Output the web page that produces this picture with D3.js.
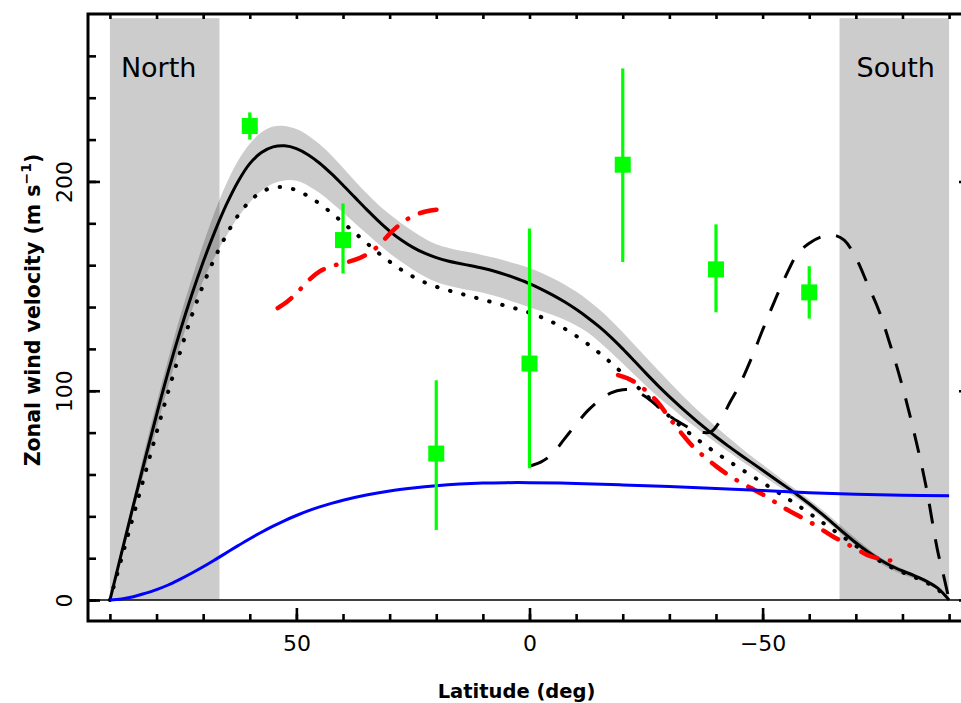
<!DOCTYPE html>
<html><head><meta charset="utf-8">
<script src="https://cdn.jsdelivr.net/npm/d3@7"></script>
<style>body{margin:0;background:#fff}svg{display:block}</style>
</head><body>
<svg id="c" width="961" height="703"></svg>
<script>
// ---------- data ----------
const modelLat = [90,87.5,85,82.5,80,77.5,75,72.5,70,67.5,65,62.5,60,57.5,55,52.5,50,47.5,45,42.5,40,37.5,35,32.5,30,27.5,25,22.5,20,17.5,15,12.5,10,7.5,5,2.5,0,-2.5,-5,-7.5,-10,-12.5,-15,-17.5,-20,-22.5,-25,-27.5,-30,-32.5,-35,-37.5,-40,-42.5,-45,-47.5,-50,-52.5,-55,-57.5,-60,-62.5,-65,-67.5,-70,-72.5,-75,-77.5,-80,-82.5,-85,-87.5,-90];
const modelSolid = [0,22.5,45,67,88.5,109,128,145.5,161.5,176,189,200,208.5,213.8,216.5,217,215.7,212.8,208.7,203.7,198.2,192.5,186.8,181.3,176.3,172,168.5,165.7,163.6,162,160.8,159.7,158.5,157.1,155.4,153.4,151.2,148.6,145.7,142.5,138.9,134.9,130.5,125.5,120,114.2,108.3,102.6,97.2,92.1,87.2,82.5,78,73.8,69.8,65.9,62,58.1,54.2,50.2,46,41.5,36.8,32,27.4,23.2,19.5,16.4,13.9,11.7,9.2,5.8,0];
const modelDotted = [0,20,40,60,80,99.5,118,135.5,150.5,163.5,174.5,183.8,190.5,195,197,197.2,195.8,193,189.3,185,180.3,175.5,170.7,166,161.7,157.8,154.5,151.8,149.7,148,146.5,145,143.5,142,140.5,139,137.3,135.2,132.7,129.7,126.2,122.3,118,113.3,108.3,103.2,98,92.8,87.8,83,78.5,74.3,70.4,66.7,63.1,59.6,56.1,52.6,49,45.3,41.5,37.6,33.7,29.8,25.9,22.2,18.8,15.8,13.3,11,8.5,5.2,0];
const bandUpper = [0,24,48,72,94,115,135,153,170,185.5,199,210,218,223.5,226.3,226.5,225,222,217.8,212.5,206.5,200.3,194.5,189,184.3,180,176.2,172.8,170,168.3,167,166,164.8,163.5,162,160.4,158.6,156.4,153.8,150.8,147.4,143.4,138.8,133.6,128,122,116,110,104.2,98.5,93,87.8,82.8,78,73.4,69,64.8,60.5,56.3,52.2,48,43.6,39,34.2,29.4,24.9,20.8,17.6,15,12.6,9.8,5.8,0];
const bandLower = [0,20,42,62,82,102,121,138,152.5,164,174,183,190,195.5,199,200.5,200.3,198,194.5,190,185.2,180.2,175.2,170.3,165.7,161.6,157.8,154.6,152,150.3,149,147.9,146.8,145.4,143.7,141.8,139.9,138.1,136.2,133.9,131.2,127.8,123.3,118.3,113,107.6,102.3,97.3,92.6,88,83.6,79.4,75.2,71.1,67.2,63.4,59.5,55.7,52,48.3,44.2,39.8,35.2,30.5,26,21.7,17.8,14.7,12.2,10.3,8,4.8,0];

const dashLat = [0,-2.5,-5,-7.5,-10,-12.5,-15,-17.5,-20,-22.5,-25,-27.5,-30,-32.5,-35,-37.5,-39,-41,-43,-45,-47.5,-50,-52.5,-55,-57.5,-60,-62.5,-65,-67.5,-70,-72.5,-75,-77.5,-80,-82.5,-85,-87.5,-89,-90];
const dashV = [64,66,70,77,84,90.5,95.5,99,100.5,100,97,92.5,88,84.5,81.5,80,80.5,86,94.5,102.5,115,129,142.5,155,165.5,170.5,173.5,174.5,172,163.5,151,138,121,102,80,55,24,10,0];

const red1Lat = [54,52,50,47.5,45,42.5,40,37.5,35,32.5,30,27.5,25,22.5,20,18.5];
const red1V = [139.5,142.5,146.5,152.5,157,159.5,161,162.5,165,169,175,180,183.5,185.5,186.5,186.5];
const red2Lat = [-19,-21,-23,-25,-27.5,-30,-32.5,-35,-37.5,-40,-42.5,-45,-47.5,-50,-52.5,-55,-57.5,-60,-62.5,-65,-67.5,-70,-72.5,-75,-77,-79,-80];
const red2V = [107.5,106,103.5,100,94.5,87,80,73.5,68.5,64,60,56.5,53.5,50.5,47,43.5,40.5,37.5,34,30.5,27.5,24.5,21.5,19.8,19,19.2,20.5];

const blueLat = [90,87.5,85,82.5,80,77.5,75,72.5,70,67.5,65,62.5,60,57.5,55,52.5,50,47.5,45,42.5,40,35,30,25,20,15,10,5,0,-10,-20,-30,-40,-50,-60,-70,-80,-90];
const blueV = [0,0.5,1.6,3.2,5,7.2,9.9,12.8,15.9,19.2,22.6,26,29.3,32.4,35.3,38,40.4,42.6,44.5,46.2,47.7,50.2,52.1,53.5,54.6,55.4,55.9,56.1,56.1,55.7,55,54.2,53.3,52.3,51.3,50.6,50.1,49.8];

const obsLat = [60,40,20,0,-20,-40,-60];
const obsV = [226.5,172,70,113,208,158,147];
const obsLo = [220,156,33.5,63,161.5,137.5,134.5];
const obsHi = [233,189.5,105,177.5,254,179.5,159.5];

const regionNames = ["North","South"];
const regionFrom = [90,-66.5];
const regionTo = [66.5,-90];
const regionTop = 278;

const xMajorTicks = [50,0,-50];
const xMinorTicks = d3.range(-90,91,10);
const yMajorTicks = [0,100,200];
const yMinorTicks = d3.range(0,261,20);

// ---------- layout ----------
const L=88, R=971, T=14, B=621;
const x = d3.scaleLinear().domain([94.7,-94.7]).range([L,R]);
const y = d3.scaleLinear().domain([-10,280]).range([B,T]);
const svg = d3.select('#c');
const g = svg.append('g');
const smooth = d3.curveCatmullRom.alpha(0.5);

// shaded regions
g.selectAll('rect.reg').data(regionNames).enter().append('rect')
  .attr('x',(d,i)=>x(regionFrom[i]))
  .attr('width',(d,i)=>x(regionTo[i])-x(regionFrom[i]))
  .attr('y',y(regionTop)).attr('height',y(0)-y(regionTop))
  .attr('fill','#000').attr('fill-opacity',0.2);

// uncertainty band
const idx = d3.range(modelLat.length);
g.append('path').datum(idx)
  .attr('d', d3.area().x(i=>x(modelLat[i])).y0(i=>y(bandLower[i])).y1(i=>y(bandUpper[i])).curve(smooth))
  .attr('fill','#000').attr('fill-opacity',0.2);

// zero line
g.append('line').attr('x1',L).attr('x2',R).attr('y1',y(0)).attr('y2',y(0))
  .attr('stroke','#000').attr('stroke-width',1.5);

function curve(lat, v, color, w, dash, cap){
  const p = g.append('path').datum(d3.range(lat.length))
    .attr('d', d3.line().x(i=>x(lat[i])).y(i=>y(v[i])).curve(smooth))
    .attr('fill','none').attr('stroke',color).attr('stroke-width',w)
    .attr('stroke-linecap',cap||'butt').attr('stroke-linejoin','round');
  if(dash) p.attr('stroke-dasharray',dash);
  return p;
}
curve(modelLat, modelDotted, '#000', 4, '0.5,13', 'round');
curve(modelLat, modelSolid, '#000', 3);
curve(dashLat, dashV, '#000', 3, '20,16');
curve(red1Lat, red1V, '#ff0000', 4.5, '17,13,0.5,13', 'round');
curve(red2Lat, red2V, '#ff0000', 4.5, '17,13,0.5,13', 'round');
curve(blueLat, blueV, '#0000ff', 3);

// observations
const obs = g.append('g');
obs.selectAll('line').data(obsLat).enter().append('line')
  .attr('x1',d=>x(d)).attr('x2',d=>x(d))
  .attr('y1',(d,i)=>y(obsLo[i])).attr('y2',(d,i)=>y(obsHi[i]))
  .attr('stroke','#00ff00').attr('stroke-width',3.2);
obs.selectAll('rect').data(obsLat).enter().append('rect')
  .attr('x',d=>x(d)-8).attr('y',(d,i)=>y(obsV[i])-8)
  .attr('width',16).attr('height',16).attr('fill','#00ff00');

// region labels
g.append('text').attr('x',x(90)+11).attr('y',y(regionTop)+59).text(regionNames[0])
  .attr('font-family','DejaVu Sans').attr('font-size',27).attr('fill','#000');
g.append('text').attr('x',x(-66.5)+17).attr('y',y(regionTop)+59).text(regionNames[1])
  .attr('font-family','DejaVu Sans').attr('font-size',27).attr('fill','#000');

// axes
function styleAxis(sel){
  sel.select('.domain').remove();
  sel.selectAll('line').attr('stroke','#000').attr('stroke-width',2.6);
}
const fmt = d => d<0 ? '\u2212'+Math.abs(d) : String(d);

g.append('g').attr('transform',`translate(0,${B})`)
  .call(d3.axisBottom(x).tickValues(xMinorTicks).tickSize(-7).tickFormat('')).call(styleAxis);
const xb = g.append('g').attr('transform',`translate(0,${B})`)
  .call(d3.axisBottom(x).tickValues(xMajorTicks).tickSize(-13).tickPadding(14).tickFormat(fmt)).call(styleAxis);
xb.selectAll('text').attr('font-family','DejaVu Sans').attr('font-size',22).attr('fill','#000').attr('dy','0.72em');

g.append('g').attr('transform',`translate(0,${T})`)
  .call(d3.axisTop(x).tickValues(xMinorTicks).tickSize(-5).tickFormat('')).call(styleAxis);

g.append('g').attr('transform',`translate(${L},0)`)
  .call(d3.axisLeft(y).tickValues(yMinorTicks).tickSize(-8).tickFormat('')).call(styleAxis);
const yl = g.append('g').attr('transform',`translate(${L},0)`)
  .call(d3.axisLeft(y).tickValues(yMajorTicks).tickSize(-12).tickFormat(fmt)).call(styleAxis);
yl.selectAll('text')
  .attr('x',null).attr('dy',null)
  .attr('transform','translate(-16,0) rotate(-90)')
  .attr('text-anchor','middle')
  .attr('font-family','DejaVu Sans').attr('font-size',22).attr('fill','#000');

g.append('g').attr('transform',`translate(${R},0)`)
  .call(d3.axisRight(y).tickValues(yMinorTicks).tickSize(-8).tickFormat('')).call(styleAxis);
g.append('g').attr('transform',`translate(${R},0)`)
  .call(d3.axisRight(y).tickValues(yMajorTicks).tickSize(-12).tickFormat('')).call(styleAxis);

// frame
g.append('rect').attr('x',L).attr('y',T).attr('width',R-L).attr('height',B-T)
  .attr('fill','none').attr('stroke','#000').attr('stroke-width',3);

// axis titles
g.append('text').attr('x',(L+R)/2-13).attr('y',698).attr('text-anchor','middle')
  .attr('font-family','DejaVu Sans').attr('font-weight','bold').attr('font-size',19.5)
  .attr('fill','#000').text('Latitude (deg)');

const yt = g.append('text').attr('transform','translate(40,310) rotate(-90)')
  .attr('text-anchor','middle')
  .attr('font-family','DejaVu Sans').attr('font-weight','bold').attr('font-size',20.5).attr('fill','#000');
yt.append('tspan').text('Zonal wind velocity (m s');
yt.append('tspan').attr('dy',-9).attr('font-size',14).text('\u22121');
yt.append('tspan').attr('dy',9).text(')');
</script>
</body></html>
